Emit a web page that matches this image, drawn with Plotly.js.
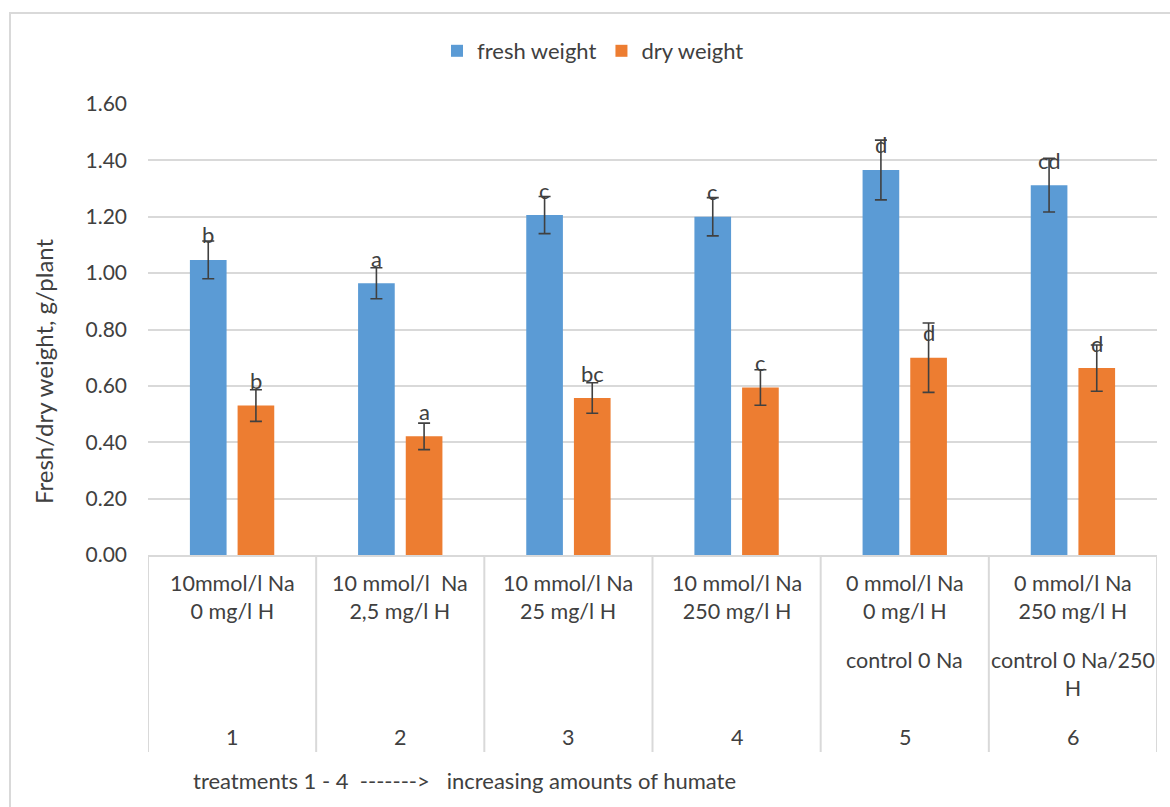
<!DOCTYPE html>
<html>
<head>
<meta charset="utf-8">
<script src="https://cdn.plot.ly/plotly-3.0.1.min.js"></script>
<style>html,body{margin:0;padding:0;background:#fff;}#chart{width:1170px;height:807px;}</style>
</head>
<body>
<div id="chart"></div>
<script>
// ---- data ----
const categories = ["1", "2", "3", "4", "5", "6"];
const treatmentLines = [
  "10mmol/l Na<br>0 mg/l H",
  "10 mmol/l&nbsp; Na<br>2,5 mg/l H",
  "10 mmol/l Na<br>25 mg/l H",
  "10 mmol/l Na<br>250 mg/l H",
  "0 mmol/l Na<br>0 mg/l H",
  "0 mmol/l Na<br>250 mg/l H"
];
const controlLines = ["", "", "", "", "control 0 Na", "control 0 Na/250<br>H"];
const freshWeight = [1.047, 0.964, 1.206, 1.200, 1.366, 1.312];
const freshError  = [0.067, 0.055, 0.066, 0.068, 0.106, 0.095];
const dryWeight   = [0.530, 0.421, 0.557, 0.594, 0.700, 0.663];
const dryError    = [0.056, 0.047, 0.054, 0.063, 0.123, 0.082];
const freshLetters = ["b", "a", "c", "c", "d", "cd"];
const dryLetters   = ["b", "a", "bc", "c", "d", "d"];
const footnote = "treatments 1 - 4&nbsp; ------->&nbsp;&nbsp; increasing amounts of humate";

// ---- geometry helpers ----
const W = 1170, H = 807;
const L = 148, R = 1157, T = 104, B = 555;
const px = x => (x - L) / (R - L);
const py = y => (B - y) / (B - T);

const FONT = "Lato, 'Open Sans', sans-serif";
const TXT = "#404040";
const GRID = "#d9d9d9";

const traces = [
  {
    type: "bar", name: "fresh weight", x: categories, y: freshWeight,
    marker: {color: "#5B9BD5"},
    error_y: {type: "data", array: freshError, visible: true, color: "#404040", thickness: 1.6, width: 6}
  },
  {
    type: "bar", name: "dry weight", x: categories, y: dryWeight,
    marker: {color: "#ED7D31"},
    error_y: {type: "data", array: dryError, visible: true, color: "#404040", thickness: 1.6, width: 6}
  }
];

const annotations = [];
const shapes = [];
const off = 23.8;
const CAT_SIZE = 21.5;
categories.forEach((c, i) => {
  annotations.push({x: i, y: freshWeight[i], xref: "x", yref: "y", text: freshLetters[i],
    showarrow: false, xshift: -off, yshift: 25, font: {family: FONT, size: 22, color: TXT}});
  annotations.push({x: i, y: dryWeight[i], xref: "x", yref: "y", text: dryLetters[i],
    showarrow: false, xshift: off, yshift: 25, font: {family: FONT, size: 22, color: TXT}});
  annotations.push({x: i, y: py(597), xref: "x", yref: "paper", text: treatmentLines[i],
    showarrow: false, yanchor: "middle", font: {family: FONT, size: CAT_SIZE, color: TXT}});
  if (controlLines[i]) {
    annotations.push({x: i, y: py(660), xref: "x", yref: "paper", text: controlLines[i],
      showarrow: false, yanchor: "top", yshift: 15, font: {family: FONT, size: CAT_SIZE, color: TXT}});
  }
  annotations.push({x: i, y: py(737), xref: "x", yref: "paper", text: c,
    showarrow: false, yanchor: "middle", font: {family: FONT, size: CAT_SIZE, color: TXT}});
});
for (let k = 0; k <= categories.length; k++) {
  shapes.push({type: "line", xref: "x", yref: "paper", x0: k - 0.5, x1: k - 0.5,
    y0: 0, y1: py(752), line: {color: GRID, width: 2}});
}
annotations.push({x: px(191), y: py(780), xref: "paper", yref: "paper", text: footnote,
  showarrow: false, xanchor: "left", yanchor: "middle", font: {family: FONT, size: 22, color: TXT}});
annotations.push({x: px(43), y: py(371), xref: "paper", yref: "paper", text: "Fresh/dry weight, g/plant",
  textangle: -90, showarrow: false, xanchor: "center", yanchor: "middle", font: {family: FONT, size: 24, color: TXT}});
// outer chart border
shapes.push({type: "rect", xref: "paper", yref: "paper", x0: px(10), x1: px(1180), y0: py(13), y1: py(820),
  line: {color: GRID, width: 2}, fillcolor: "rgba(0,0,0,0)", layer: "below"});

const layout = {
  width: W, height: H,
  margin: {l: L, r: W - R, t: T, b: H - B, pad: 0},
  paper_bgcolor: "#fff", plot_bgcolor: "#fff",
  font: {family: FONT, color: TXT, size: 20},
  barmode: "group", bargap: 0.433, bargroupgap: 0.231,
  showlegend: true,
  legend: {orientation: "h", x: px(437), y: py(51), xanchor: "left", yanchor: "middle",
    font: {family: FONT, size: 22, color: TXT}, itemwidth: 30, traceorder: "normal"},
  xaxis: {type: "category", showticklabels: false, ticks: "", showgrid: false, zeroline: false,
    showline: true, linecolor: GRID, linewidth: 2, range: [-0.5, 5.5], fixedrange: true},
  yaxis: {range: [0, 1.6], dtick: 0.2, tickformat: ".2f", showgrid: true, gridcolor: GRID, gridwidth: 2,
    zeroline: false, showline: false, ticks: "", ticklabelstandoff: 20,
    tickfont: {family: FONT, size: 21, color: TXT}, fixedrange: true},
  annotations: annotations,
  shapes: shapes
};

Plotly.newPlot("chart", traces, layout, {displayModeBar: false, staticPlot: true});
</script>
</body>
</html>
